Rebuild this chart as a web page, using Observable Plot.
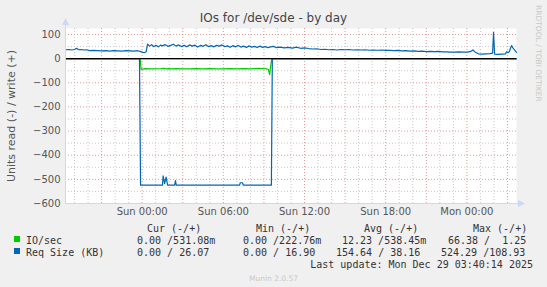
<!DOCTYPE html>
<html><head><meta charset="utf-8">
<script src="https://cdn.jsdelivr.net/npm/d3@7"></script>
<script src="https://cdn.jsdelivr.net/npm/@observablehq/plot@0.6"></script>
<style>
body{margin:0;background:#f0f0f0;}
#chart{position:relative;width:547px;height:287px;overflow:hidden;}
svg text{white-space:pre;}
</style>
</head><body><div id="chart"></div>
<script>
// ---- texts ----
const title = "IOs for /dev/sde - by day";
const yLabel = "Units read (-) / write (+)";
const watermark = "RRDTOOL / TOBI OETIKER";
const footer = "Munin 2.0.57";
const lastUpdate = "Last update: Mon Dec 29 03:40:14 2025";

// ---- axes (hours relative to Sun 00:00) ----
const xDomain = [-5.667, 27.667];
const xTickHours = [0, 6, 12, 18, 24];
const xTickLabels = ["Sun 00:00", "Sun 06:00", "Sun 12:00", "Sun 18:00", "Mon 00:00"];
const yDomain = [-600, 125];
const yTicks = [-600, -500, -400, -300, -200, -100, 0, 100];

// ---- series: IO/sec write (+) ----
const ioWriteHours = [-5.667, -3, 0, 3, 6, 9, 12, 15, 18, 21, 24, 27.667];
const ioWriteValues = [0.5, 0.5, 0.55, 0.6, 0.55, 0.5, 0.5, 0.52, 0.5, 0.5, 0.5, 0.53];

// ---- series: IO/sec read (-) ----
const ioReadHours = [-5.667, -0.15, -0.08, 0.2, 0.6, 1.0, 1.4, 1.6, 1.8, 2.0, 2.2, 2.5, 3.0, 3.5, 4.0, 4.5, 5.0, 5.5, 6.0, 6.5, 7.0, 7.5, 8.0, 8.3, 8.6, 8.9, 9.2, 9.33, 9.42, 9.5, 9.58, 27.667];
const ioReadValues = [0, 0, 44, 41, 42, 42, 41, 40, 42, 41, 42, 41, 42, 42, 41, 42, 41, 42, 42, 41, 42, 41, 42, 41, 40, 41, 42, 45, 66, 30, 0, 0];

// ---- series: Req Size (KB) write (+) ----
const reqWriteHours = [-5.667, -5.4, -5.2, -5.0, -4.85, -4.7, -4.5, -4.3, -4.1, -3.9, -3.6, -3.3, -3.0, -2.7, -2.4, -2.1, -1.8, -1.5, -1.2, -0.9, -0.6, -0.35, -0.15, 0.05, 0.2, 0.3, 0.4, 0.55, 0.7, 0.85, 1.0, 1.2, 1.35, 1.5, 1.7, 1.9, 2.1, 2.3, 2.5, 2.7, 2.9, 3.1, 3.3, 3.5, 3.7, 3.9, 4.1, 4.3, 4.5, 4.7, 4.9, 5.1, 5.3, 5.5, 5.7, 5.9, 6.1, 6.3, 6.5, 6.7, 6.9, 7.1, 7.3, 7.5, 7.7, 7.9, 8.1, 8.3, 8.5, 8.7, 8.9, 9.1, 9.3, 9.5, 9.7, 9.9, 10.2, 10.5, 10.8, 11.1, 11.4, 11.7, 12.0, 12.3, 12.6, 12.9, 13.2, 13.5, 13.8, 14.1, 14.4, 14.7, 15.0, 15.3, 15.6, 15.9, 16.2, 16.5, 16.8, 17.1, 17.4, 17.7, 18.0, 18.3, 18.6, 18.9, 19.2, 19.5, 19.8, 20.1, 20.4, 20.7, 21.0, 21.3, 21.6, 21.9, 22.2, 22.5, 22.8, 23.1, 23.4, 23.7, 24.0, 24.25, 24.45, 24.6, 24.85, 25.1, 25.4, 25.7, 25.9, 25.97, 26.05, 26.3, 26.6, 26.85, 26.95, 27.05, 27.15, 27.2, 27.3, 27.4, 27.5, 27.6, 27.667];
const reqWriteValues = [37, 38, 36, 38, 43, 37, 38, 36, 37, 33, 34, 33, 32, 33, 31, 33, 32, 31, 33, 32, 31, 33, 30, 26, 25, 30, 60, 52, 58, 50, 55, 49, 56, 53, 58, 51, 55, 60, 52, 57, 50, 55, 49, 57, 52, 56, 48, 55, 51, 58, 50, 54, 49, 55, 52, 57, 50, 53, 47, 54, 49, 55, 48, 52, 46, 53, 48, 51, 46, 52, 47, 50, 46, 49, 51, 46, 48, 45, 47, 44, 48, 43, 45, 42, 40, 41, 38, 39, 37, 38, 36, 38, 37, 38, 36, 37, 36, 37, 35, 36, 35, 36, 34, 35, 33, 34, 32, 33, 31, 32, 30, 31, 29, 30, 29, 30, 28, 28, 27, 27, 28, 27, 27, 29, 36, 28, 20, 19, 20, 21, 23, 109, 19, 18, 19, 20, 29, 25, 30, 40, 54, 45, 38, 30, 26];

// ---- series: Req Size (KB) read (-) ----
const reqReadHours = [-5.667, -0.2, -0.12, 1.5, 1.55, 1.66, 1.77, 1.88, 2.4, 2.46, 2.52, 7.2, 7.25, 7.42, 7.47, 9.55, 9.62, 27.667];
const reqReadValues = [0, 0, 524, 524, 485, 518, 491, 524, 524, 505, 524, 524, 514, 514, 524, 524, 0, 0];

// ---- legend ----
const legendNames = ["IO/sec", "Req Size (KB)"];
const legendColors = ["#00cc00", "#0066b3"];
const legendHeaders = ["Cur (-/+)", "Min (-/+)", "Avg (-/+)", "Max (-/+)"];
const legendRows = [
  ["0.00 /531.08m", "0.00 /222.76m", "12.23 /538.45m", "66.38 /  1.25"],
  ["0.00 / 26.07", "0.00 / 16.90", "154.64 / 38.16", "524.29 /108.93"]
];

const toTable = (hs, vs, sign) => hs.map((h, i) => ({h, v: sign * vs[i]}));
const ioWrite = toTable(ioWriteHours, ioWriteValues, 1);
const ioRead = toTable(ioReadHours, ioReadValues, -1);
const reqWrite = toTable(reqWriteHours, reqWriteValues, 1);
const reqRead = toTable(reqReadHours, reqReadValues, -1);

const minorX = d3.range(-5, 28).filter(h => h % 3 !== 0);
const majorX = d3.range(-3, 28, 3);
const minorY = d3.range(-550, 100, 100);
const majorY = [-500, -400, -300, -200, -100, 100];

const plot = Plot.plot({
  width: 547, height: 287,
  marginLeft: 65, marginRight: 31, marginTop: 28, marginBottom: 84,
  style: {background: "transparent", fontFamily: "DejaVu Sans", fontSize: "10px", color: "#555", overflow: "visible"},
  x: {domain: xDomain, ticks: xTickHours, tickFormat: d => xTickLabels[xTickHours.indexOf(d)], tickSize: 0, tickPadding: 4, label: null},
  y: {domain: yDomain, ticks: yTicks, tickSize: 0, tickPadding: 5, label: null},
  marks: [
    Plot.frame({fill: "white", stroke: "none"}),
    Plot.ruleX(minorX, {stroke: "#c8c8c8", strokeDasharray: "1,2"}),
    Plot.ruleX(majorX, {stroke: "#e29a9a", strokeDasharray: "1,2"}),
    Plot.ruleY(minorY, {stroke: "#c8c8c8", strokeDasharray: "1,2"}),
    Plot.ruleY(majorY, {stroke: "#e29a9a", strokeDasharray: "1,2"}),
    Plot.line(ioWrite, {x: "h", y: "v", stroke: legendColors[0], strokeWidth: 1.2}),
    Plot.line(ioRead, {x: "h", y: "v", stroke: legendColors[0], strokeWidth: 1.2}),
    Plot.line(reqWrite, {x: "h", y: "v", stroke: legendColors[1], strokeWidth: 1.2}),
    Plot.line(reqRead, {x: "h", y: "v", stroke: legendColors[1], strokeWidth: 1.2}),
    Plot.ruleY([0], {stroke: "#000", strokeWidth: 1.2})
  ]
});
document.getElementById("chart").appendChild(plot);

// ---- decorations ----
const svg = d3.select(plot);
const xs = plot.scale("x"), ys = plot.scale("y");
const x0 = Math.round(xs.apply(xDomain[0])), x1 = Math.round(xs.apply(xDomain[1]));
const yB = Math.round(ys.apply(yDomain[0])), yT = Math.round(ys.apply(yDomain[1]));
const axisColor = "#cfd6f8";
svg.append("line").attr("x1", x0 + 0.5).attr("x2", x0 + 0.5).attr("y1", yB).attr("y2", yT - 5).attr("stroke", axisColor);
svg.append("line").attr("x1", x0).attr("x2", x1 + 5).attr("y1", yB + 0.5).attr("y2", yB + 0.5).attr("stroke", axisColor);
svg.append("path").attr("d", `M${x0 + 0.5},${yT - 10}L${x0 - 3},${yT - 3}L${x0 + 4},${yT - 3}Z`).attr("fill", axisColor);
svg.append("path").attr("d", `M${x1 + 9},${yB + 0.5}L${x1 + 2},${yB - 3}L${x1 + 2},${yB + 4}Z`).attr("fill", axisColor);

const addText = (t, x, y, opts = {}) => svg.append("text").text(t)
  .attr("x", x).attr("y", y)
  .attr("text-anchor", opts.anchor || "start")
  .attr("font-family", opts.family || "DejaVu Sans")
  .attr("font-size", opts.size || 10)
  .attr("fill", opts.fill || "#333")
  .attr("transform", opts.transform || null);

addText(title, 273.5, 22, {anchor: "middle", size: 12, fill: "#444"});
addText(yLabel, 0, 0, {anchor: "middle", size: 11, fill: "#555", transform: "translate(15,116) rotate(-90)"});
addText(watermark, 0, 0, {anchor: "start", size: 7.5, fill: "#c8c8c8", transform: "translate(535.5,5) rotate(90)"});

const mono = "DejaVu Sans Mono";
const headerX = [147, 256, 364, 473];
const rowX = [[137, 243, 342, 448], [137, 243, 336, 441]];
const headerY = 231.5, rowY = [243.5, 255.5];
legendHeaders.forEach((t, i) => addText(t, headerX[i], headerY, {family: mono}));
legendNames.forEach((n, r) => {
  svg.append("rect").attr("x", 14).attr("y", rowY[r] - 7.5).attr("width", 6).attr("height", 6).attr("fill", legendColors[r]);
  addText(n, 26, rowY[r], {family: mono});
  legendRows[r].forEach((t, c) => addText(t, rowX[r][c], rowY[r], {family: mono}));
});
addText(lastUpdate, 533, 267.5, {anchor: "end", family: mono});
addText(footer, 273.5, 281, {anchor: "middle", size: 7.5, fill: "#c8c8c8"});
</script>
</body></html>
